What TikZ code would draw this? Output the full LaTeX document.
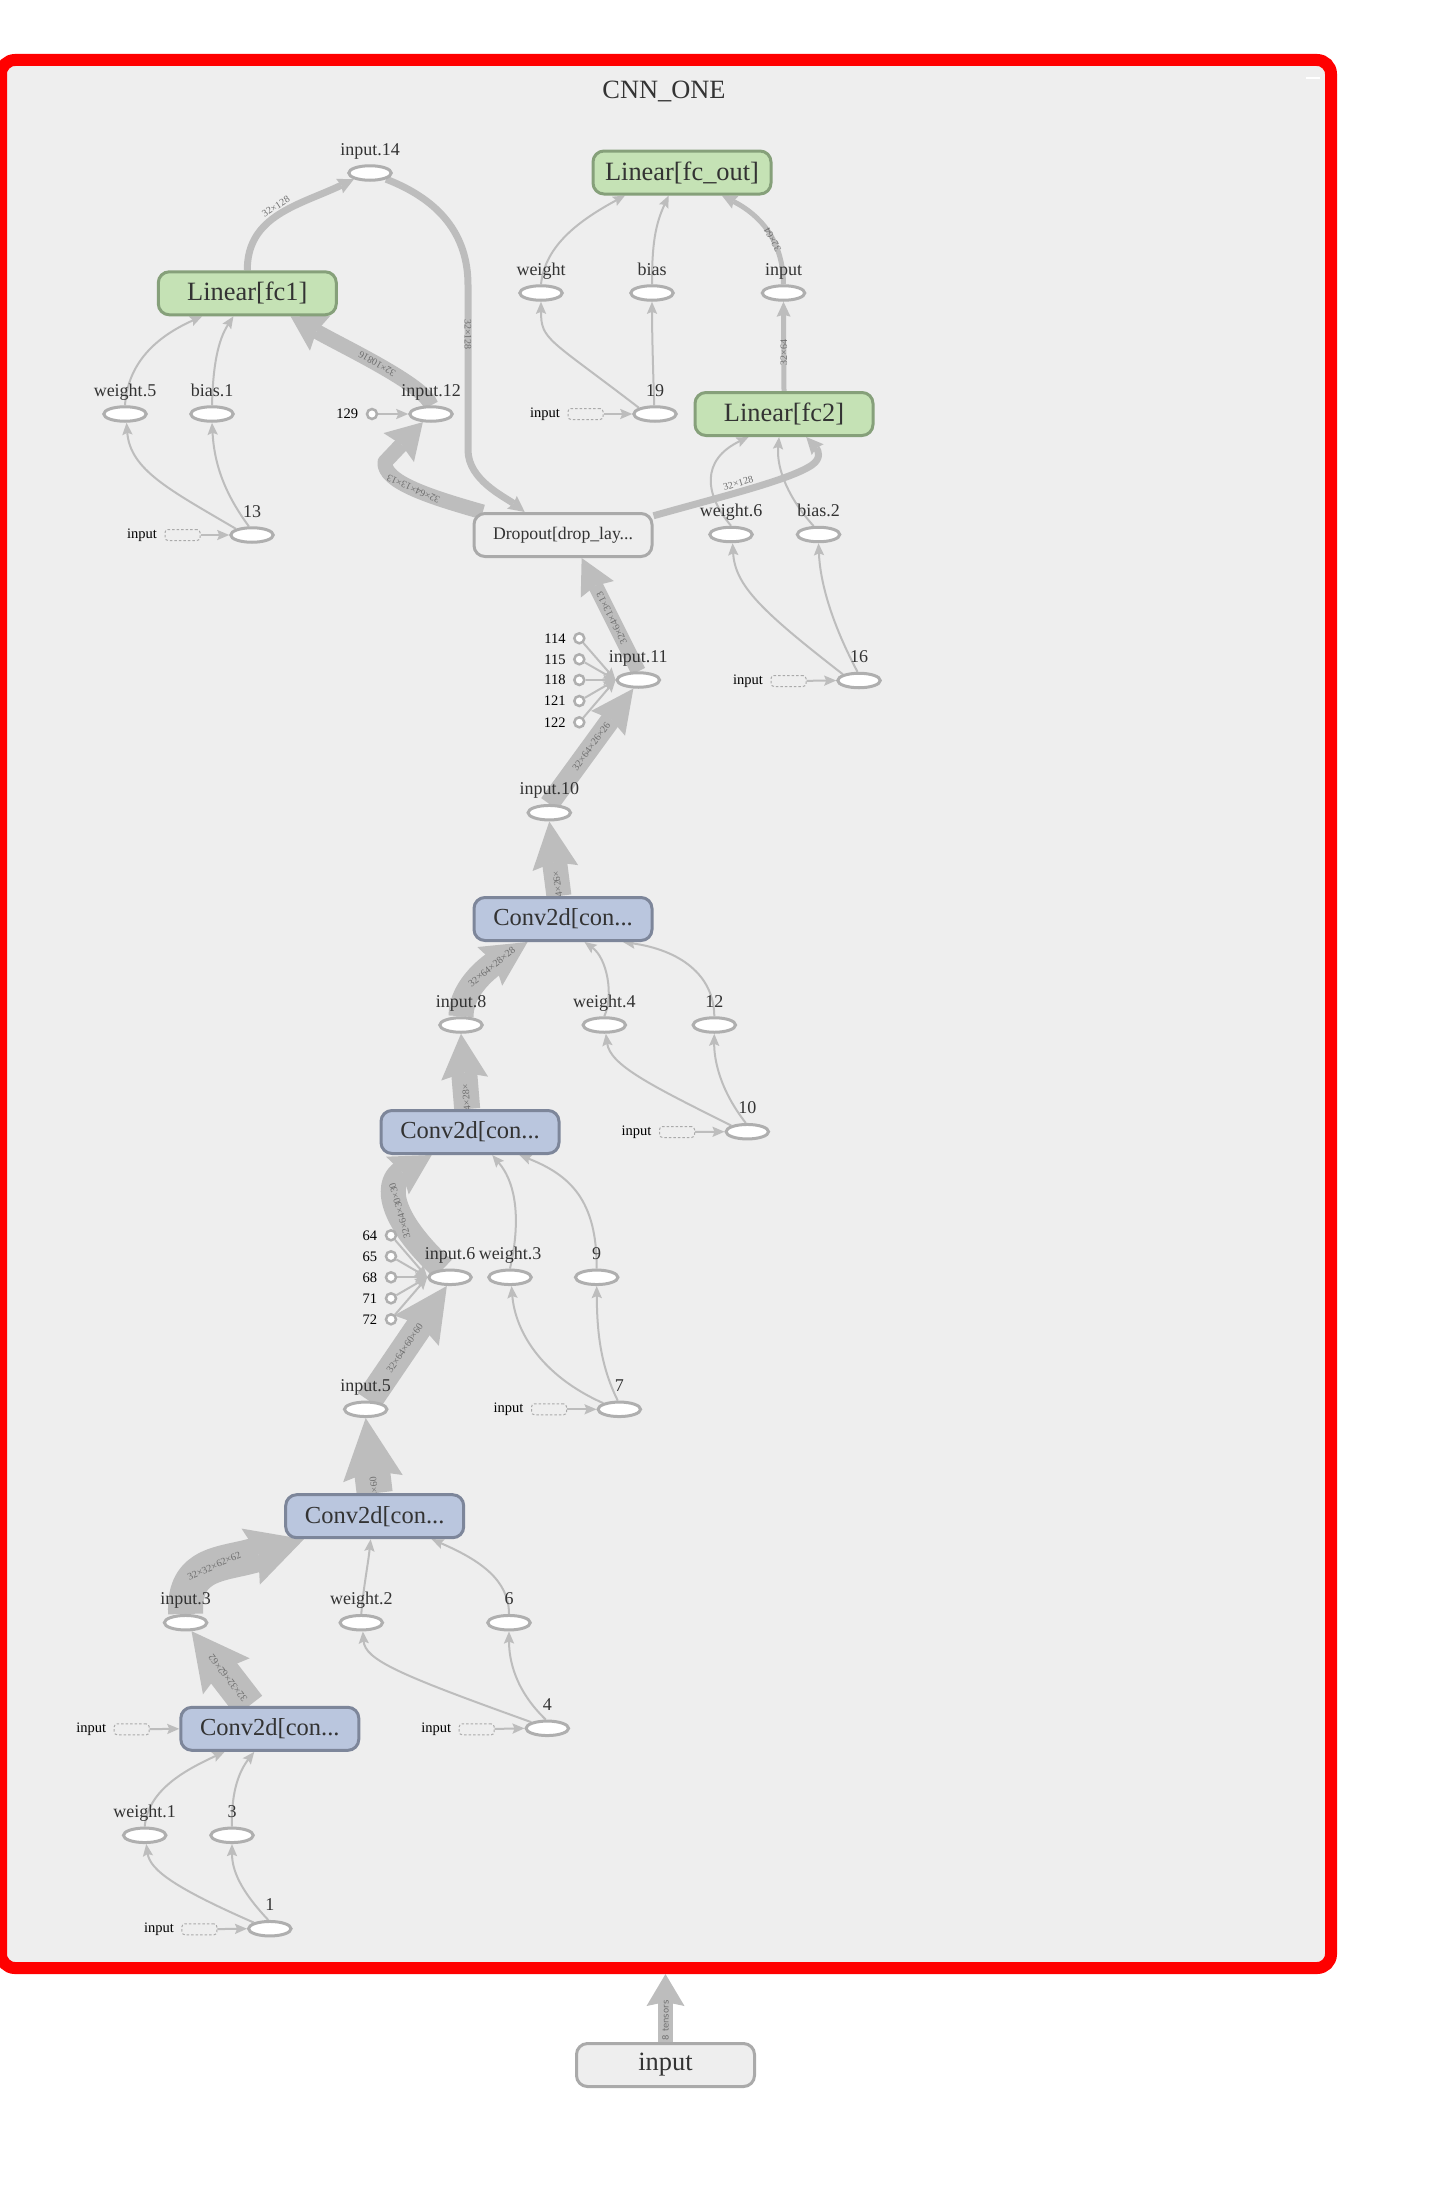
\documentclass[tikz,border=0pt]{standalone}
\usepackage{fontspec}
\setmainfont{Liberation Serif}
\newfontfamily\sansf{DejaVu Sans}
\usetikzlibrary{shapes.geometric,arrows.meta,calc}
\definecolor{edgec}{HTML}{BDBDBD}
\definecolor{ellc}{HTML}{AFAFAF}
\definecolor{bgc}{HTML}{EEEEEE}
\definecolor{txtc}{HTML}{333333}
\definecolor{labc}{HTML}{6E6E6E}
\definecolor{gfill}{HTML}{C5E2B5}
\definecolor{gdraw}{HTML}{86A07A}
\definecolor{bfill}{HTML}{BAC6DE}
\definecolor{bdraw}{HTML}{7D869A}
\definecolor{ndraw}{HTML}{AAAAAA}
\definecolor{framec}{HTML}{FF0000}
\pgfdeclarelayer{bg}
\pgfdeclarelayer{edges}
\pgfsetlayers{bg,edges,main}
\newcommand\fsz[1]{\fontsize{#1}{#1}\selectfont}
\tikzset{
  ell/.style={ellipse, draw=ellc, fill=white, line width=3pt, minimum width=42.5pt, minimum height=14.5pt, inner sep=0pt},
  ttl/.style={label={[font=\fsz{18}, text=txtc, anchor=base, yshift=9pt]90:#1}},
  smallc/.style={circle, draw=ellc, fill=white, line width=2.5pt, minimum size=10pt, inner sep=0pt},
  lft/.style={label={[font=\fsz{14.5}, text=black, anchor=east, label distance=4pt]180:#1}},
  dbox/.style={rectangle, rounded corners=3pt, draw=ndraw, dash pattern=on 2.5pt off 2pt, line width=1pt, minimum width=35pt, minimum height=11pt, inner sep=0pt},
  opbox/.style={rectangle, rounded corners=11pt, line width=3pt, minimum width=178pt, minimum height=43pt, inner sep=0pt, text=txtc},
  greenbox/.style={opbox, fill=gfill, draw=gdraw, font=\fsz{26.4}},
  bluebox/.style={opbox, fill=bfill, draw=bdraw, font=\fsz{24.5}},
  graybox/.style={opbox, fill=bgc, draw=ndraw, font=\fsz{17.7}},
  tedge/.style={draw=edgec, line width=2pt, -{Stealth[length=12pt,width=10pt,inset=2pt]}},
  fat/.style n args={4}{draw=edgec, line width=#1, line join=round, -{Stealth[length=#2,width=#3,inset=#4,line width=0pt]}},
  elab/.style={font=\fsz{10}, text=labc, sloped, allow upside down, inner sep=0.5pt},
}
\begin{document}
\begin{tikzpicture}[x=1pt,y=-1pt]
\useasboundingbox (0,0) rectangle (1451,2208);
\begin{pgfonlayer}{bg}
\node[draw=framec, fill=bgc, line width=12pt, rounded corners=14pt, minimum width=1330pt, minimum height=1908pt, inner sep=0pt] (cnn) at (666,1014) {};
\end{pgfonlayer}
\draw[white, line width=2pt] (1306,78) -- (1320,78);
\node[font=\fsz{26.4}, text=txtc, anchor=base] (title) at (664,99) {CNN\_ONE};

% ---------- boxes ----------
\node[greenbox] (fc1) at (247.3,293.3) {Linear[fc1]};
\node[greenbox] (fcout) at (682,172.5) {Linear[fc\_out]};
\node[greenbox] (fc2) at (784,414) {Linear[fc2]};
\node[graybox] (drop) at (563,535) {Dropout[drop\_lay...};
\node[bluebox] (conv4) at (563,919) {Conv2d[con...};
\node[bluebox] (conv3) at (470,1132) {Conv2d[con...};
\node[bluebox] (conv2) at (374.7,1516.2) {Conv2d[con...};
\node[bluebox] (conv1) at (269.8,1728.8) {Conv2d[con...};
\node[graybox, font=\fsz{26.4}] (inbox) at (665.5,2065) {input};

% ---------- ellipses ----------
\node[ell, ttl=input.14] (e14) at (370,173) {};
\node[ell, ttl=weight.5] (ew5) at (125,414) {};
\node[ell, ttl=bias.1] (eb1) at (212,414) {};
\node[ell, ttl=input.12] (e12) at (431,414) {};
\node[ell, ttl=13] (e13) at (252,535) {};
\node[ell, ttl=weight] (ew) at (541,293) {};
\node[ell, ttl=bias] (eb) at (652,293) {};
\node[ell, ttl=input] (ein) at (783.5,293) {};
\node[ell, ttl=19] (e19) at (655,414) {};
\node[ell, ttl=weight.6] (ew6) at (731,534.5) {};
\node[ell, ttl=bias.2] (eb2) at (818.5,534.5) {};
\node[ell, ttl=16] (e16) at (859,680.5) {};
\node[ell, ttl=input.11] (e11) at (638.3,680) {};
\node[ell, ttl=input.10] (e10) at (549.3,812.7) {};
\node[ell, ttl=input.8] (e8) at (461,1025) {};
\node[ell, ttl=weight.4] (ew4) at (604.3,1025) {};
\node[ell, ttl=12] (e12b) at (714.3,1025) {};
\node[ell, ttl=10] (e10b) at (747.3,1131.7) {};
\node[ell, ttl=input.6] (e6) at (450,1277.3) {};
\node[ell, ttl=weight.3] (ew3) at (510,1277.3) {};
\node[ell, ttl=9] (e9) at (596.7,1277.3) {};
\node[ell, ttl=input.5] (e5) at (365.7,1409.3) {};
\node[ell, ttl=7] (e7) at (619.3,1409.3) {};
\node[ell, ttl=input.3] (e3) at (185.6,1622.7) {};
\node[ell, ttl=weight.2] (ew2) at (361.3,1622.7) {};
\node[ell, ttl=6] (e6b) at (509,1622.7) {};
\node[ell, ttl=4] (e4) at (547.3,1728.3) {};
\node[ell, ttl=weight.1] (ew1) at (144.7,1835.3) {};
\node[ell, ttl=3] (e3b) at (232,1835.3) {};
\node[ell, ttl=1] (e1) at (269.8,1928.7) {};

% ---------- small circles ----------
\node[smallc, lft=129] (c129) at (372,414) {};
\node[smallc, lft=114] (c114) at (579.3,638.3) {};
\node[smallc, lft=115] (c115) at (579.3,659.3) {};
\node[smallc, lft=118] (c118) at (579.3,680) {};
\node[smallc, lft=121] (c121) at (579.3,701) {};
\node[smallc, lft=122] (c122) at (579.3,722.3) {};
\node[smallc, lft=64] (c64) at (391,1235.3) {};
\node[smallc, lft=65] (c65) at (391,1256.3) {};
\node[smallc, lft=68] (c68) at (391,1277.3) {};
\node[smallc, lft=71] (c71) at (391,1298.3) {};
\node[smallc, lft=72] (c72) at (391,1319.3) {};

% ---------- dashed inputs ----------
\node[dbox, lft=input] (d13) at (182.5,535) {};
\node[dbox, lft=input] (d19) at (585.5,414) {};
\node[dbox, lft=input] (d16) at (788.5,681) {};
\node[dbox, lft=input] (d10) at (677,1132) {};
\node[dbox, lft=input] (d7) at (549,1409.3) {};
\node[dbox, lft=input] (d4) at (476.7,1729.3) {};
\node[dbox, lft=input] (dc1) at (131.7,1729.3) {};
\node[dbox, lft=input] (d1) at (199.4,1929.3) {};

% ---------- edges ----------
\begin{pgfonlayer}{edges}
% top left
\draw[fat={7pt}{16pt}{16pt}{2pt}] (fc1.north) .. controls (247,215) and (300,205) .. (e14.south west) node[elab,pos=0.5,above=1pt]{32×128};
\draw[fat={7pt}{16pt}{16pt}{2pt}] (e14.south east) .. controls (440,200) and (468,235) .. (468,285) -- (468,450) node[elab,pos=0.3]{32×128} .. controls (468,480) and (505,497) .. (drop.149.5);
\draw[fat={15pt}{34pt}{40pt}{4pt}] (e12.north) .. controls (425,385) and (340,345) .. (fc1.-28.2) node[elab,pos=0.5]{32×10816};
\draw[fat={15pt}{35pt}{42pt}{4pt}] (drop.164.4) .. controls (430,497) and (383,482) .. (385,462) node[elab,pos=0.5]{32×64×13×13} -- (e12.225);
\draw[tedge] (c129) -- (e12.west);
\draw[tedge] (ew5.north) .. controls (128,360) and (160,335) .. (fc1.207.6);
\draw[tedge] (eb1.north) .. controls (213,365) and (218,340) .. (fc1.239.9);
\draw[tedge] (e13.north west) .. controls (170,490) and (130,470) .. (ew5.-80);
\draw[tedge] (e13.110) .. controls (222,490) and (214,460) .. (eb1.south);
\draw[tedge] (d13) -- (e13.west);
% top right
\draw[tedge] (ew.north) .. controls (545,245) and (580,220) .. (fcout.202);
\draw[tedge] (eb.north) .. controls (652,245) and (655,225) .. (fcout.240);
\draw[fat={5pt}{15pt}{14pt}{2pt}] (ein.north) .. controls (783,240) and (760,215) .. (fcout.-30) node[elab,pos=0.4]{32×64};
\draw[tedge] (e19.north west) .. controls (548,338) and (541,340) .. (ew.south);
\draw[tedge] (e19.95) .. controls (653,370) and (652,330) .. (eb.south);
\draw[tedge] (d19) -- (e19.west);
\draw[fat={5pt}{15pt}{14pt}{2pt}] (fc2.north) -- (ein.south) node[elab,pos=0.43]{32×64};
\draw[fat={7pt}{17pt}{16pt}{2pt}] (drop.12.7) .. controls (720,497) and (790,480) .. (812,465) node[elab,pos=0.45,above=1.5pt]{32×128} .. controls (822,458) and (818,450) .. (fc2.-46.6);
\draw[tedge] (ew6.north) .. controls (705,495) and (700,460) .. (fc2.213.7);
\draw[tedge] (eb2.120) .. controls (790,500) and (776,470) .. (fc2.258.7);
\draw[tedge] (e16.north west) .. controls (760,610) and (735,585) .. (ew6.-80);
\draw[tedge] (e16.100) .. controls (830,620) and (820,580) .. (eb2.south);
\draw[tedge] (d16) -- (e16.west);
% middle
\draw[fat={15pt}{35pt}{37pt}{4pt}] (e11.north) -- (drop.-51.3) node[elab,pos=0.47]{32×64×13×13};
\draw[fat={20pt}{43pt}{42pt}{5pt}] (e10.north) -- (e11.240) node[elab,pos=0.5]{32×64×26×26};
\foreach \c in {c114,c115,c118,c121,c122} \draw[tedge] (\c) -- (e11.west);
\draw[fat={25pt}{47pt}{46pt}{6pt}] (conv4.100) -- (e10.south) node[elab,pos=0.51,anchor=east]{×64×26×};
\draw[fat={25pt}{45pt}{46pt}{6pt}] (e8.north) .. controls (461,985) and (495,963) .. (conv4.213.1) node[elab,pos=0.62]{32×64×28×28};
\draw[tedge] (ew4.north) .. controls (614,995) and (607,958) .. (conv4.-47.1);
\draw[tedge] (e12b.north) .. controls (714,975) and (680,950) .. (conv4.-21.2);
\draw[tedge] (e10b.north west) .. controls (650,1085) and (610,1065) .. (ew4.-80);
\draw[tedge] (e10b.100) .. controls (720,1090) and (714,1060) .. (e12b.south);
\draw[tedge] (d10) -- (e10b.west);
\draw[fat={26pt}{45pt}{47pt}{6pt}] (conv3.97.4) -- (e8.south) node[elab,pos=0.505,anchor=east]{×64×28×};
\draw[fat={25pt}{40pt}{44pt}{6pt}] (e6.130) .. controls (380,1210) and (390,1180) .. (conv3.211.7) node[elab,pos=0.4]{32×64×30×30};
\draw[tedge] (ew3.north) .. controls (520,1225) and (518,1185) .. (conv3.-46.7);
\draw[tedge] (e9.north) .. controls (597,1200) and (570,1175) .. (conv3.-25.5);
\draw[tedge] (e7.north west) .. controls (540,1375) and (515,1330) .. (ew3.-80);
\draw[tedge] (e7.100) .. controls (600,1365) and (597,1330) .. (e9.south);
\draw[tedge] (d7) -- (e7.west);
\foreach \c in {c64,c65,c68,c71,c72} \draw[tedge] (\c) -- (e6.west);
\draw[fat={27pt}{54pt}{54pt}{7pt}] (e5.70) -- (e6.250) node[elab,pos=0.46]{32×64×60×60};
\draw[fat={36pt}{61pt}{60pt}{8pt}] (conv2.north) -- (e5.south) node[elab,pos=0.455,anchor=east]{64×60};
% bottom
\draw[fat={35pt}{56pt}{59pt}{8pt}] (e3.north) .. controls (183,1560) and (225,1565) .. (conv2.198.1) node[elab,pos=0.5]{32×32×62×62};
\draw[tedge] (ew2.north) .. controls (363,1590) and (368,1565) .. (conv2.260.9);
\draw[tedge] (e6b.north) .. controls (509,1580) and (480,1560) .. (conv2.-22.5);
\draw[tedge] (e4.north west) .. controls (400,1675) and (365,1660) .. (ew2.-80);
\draw[tedge] (e4.100) .. controls (515,1690) and (509,1660) .. (e6b.south);
\draw[tedge] (d4) -- (e4.west);
\draw[fat={33pt}{57pt}{59pt}{8pt}] (conv1.132.6) -- (e3.-55) node[elab,pos=0.37]{32×32×62×62};
\draw[tedge] (ew1.north) .. controls (148,1790) and (185,1770) .. (conv1.207.5);
\draw[tedge] (e3b.north) .. controls (231,1790) and (240,1770) .. (conv1.236.3);
\draw[tedge] (e1.north west) .. controls (175,1888) and (150,1870) .. (ew1.-80);
\draw[tedge] (e1.100) .. controls (240,1890) and (232,1870) .. (e3b.south);
\draw[tedge] (d1) -- (e1.west);
\draw[tedge] (dc1) -- (conv1.west);
% outer input
\draw[fat={15pt}{32pt}{38pt}{4pt}] (inbox.north) -- (cnn.south -| inbox.north) node[elab,pos=0.32,font=\sansf\fsz{8.5}]{8 tensors};
\end{pgfonlayer}
\end{tikzpicture}
\end{document}
